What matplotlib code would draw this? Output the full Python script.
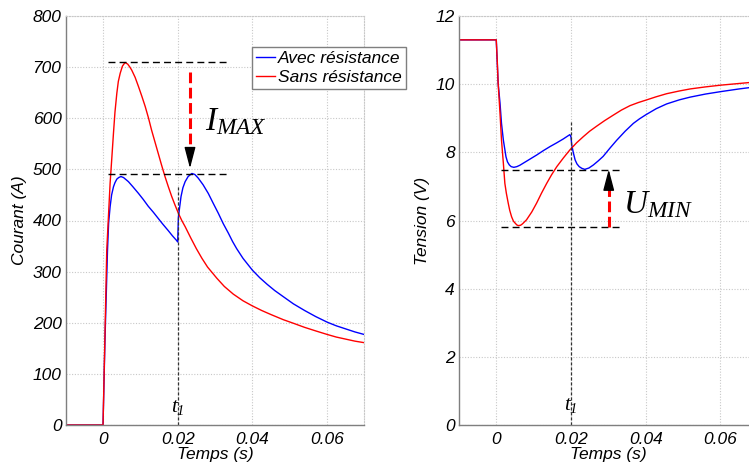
import matplotlib
matplotlib.use("Agg")
import matplotlib.pyplot as plt
from matplotlib.lines import Line2D

plt.rcParams['font.family'] = ['Liberation Sans', 'DejaVu Sans']
plt.rcParams['font.style'] = 'italic'
plt.rcParams['mathtext.fontset'] = 'custom'
plt.rcParams['mathtext.it'] = 'Liberation Serif:italic'
plt.rcParams['mathtext.rm'] = 'Liberation Serif:italic'

# ---------------- data ----------------
t_I_avec = [-0.01, 0, 0.0005, 0.0012, 0.0015, 0.0019, 0.0023, 0.0028, 0.0032, 0.0037,
            0.0042, 0.0048, 0.0055, 0.0068, 0.0080, 0.0095, 0.0108, 0.0121, 0.0135,
            0.0148, 0.0160, 0.0175, 0.0186, 0.0197, 0.0200, 0.0202, 0.0206, 0.0209,
            0.0214, 0.0220, 0.0228, 0.0238, 0.0246, 0.0255, 0.0268, 0.0282, 0.0295,
            0.0309, 0.0322, 0.0336, 0.0347, 0.0358, 0.0375, 0.0400, 0.0420, 0.0440,
            0.0460, 0.0483, 0.0510, 0.0540, 0.0570, 0.0601, 0.0625, 0.0650, 0.0675,
            0.0700]
I_avec = [0, 0, 160, 342, 395, 427, 450, 466, 474, 481,
          484, 486, 484, 476, 466, 453, 441, 428, 416,
          404, 393, 380, 370, 361, 358, 407, 430, 447,
          464, 476, 486, 492, 490, 483, 470, 453, 434,
          414, 394, 375, 359, 345, 326, 303, 288, 275,
          263, 251, 237, 224, 212, 201, 194, 188, 182,
          177]

t_I_sans = [-0.01, 0, 0.0005, 0.0010, 0.0015, 0.0019, 0.0024, 0.0028, 0.0032, 0.0037,
            0.0041, 0.0046, 0.0052, 0.0059, 0.0066, 0.0072, 0.0077, 0.0086, 0.0095,
            0.0104, 0.0113, 0.0122, 0.0130, 0.0139, 0.0148, 0.0157, 0.0166, 0.0175,
            0.0184, 0.0193, 0.0202, 0.0211, 0.0220, 0.0235, 0.0250, 0.0265, 0.0280,
            0.0305, 0.0325, 0.0349, 0.0375, 0.0400, 0.0425, 0.0450, 0.0483, 0.0510,
            0.0540, 0.0570, 0.0601, 0.0625, 0.0650, 0.0675, 0.0700]
I_sans = [0, 0, 170, 342, 415, 473, 527, 571, 612, 649,
          672, 688, 702, 709, 706, 700, 694, 680, 662,
          643, 623, 600, 577, 554, 531, 508, 486, 466,
          447, 430, 414, 400, 388, 366, 345, 326, 309,
          287, 271, 256, 243, 233, 224, 216, 206, 199,
          191, 184, 177, 172, 168, 164, 161]

t_U_avec = [-0.01, 0, 0.0005, 0.0010, 0.0014, 0.0019, 0.0026, 0.0030, 0.0035, 0.0040,
            0.0047, 0.0055, 0.0063, 0.0072, 0.0090, 0.0108, 0.0126, 0.0144, 0.0162,
            0.0179, 0.0197, 0.0200, 0.0202, 0.0206, 0.0211, 0.0216, 0.0222, 0.0229,
            0.0237, 0.0248, 0.0260, 0.0273, 0.0286, 0.0304, 0.0322, 0.0345, 0.0367,
            0.0383, 0.0400, 0.0428, 0.0456, 0.0490, 0.0519, 0.0560, 0.0600, 0.0650,
            0.0700]
U_avec = [11.3, 11.3, 10.03, 9.45, 8.85, 8.36, 7.87, 7.72, 7.63, 7.58,
          7.56, 7.58, 7.62, 7.68, 7.80, 7.92, 8.05, 8.17, 8.28,
          8.39, 8.52, 8.45, 8.22, 8.00, 7.78, 7.66, 7.58, 7.53,
          7.50, 7.54, 7.63, 7.75, 7.88, 8.12, 8.35, 8.62, 8.85,
          8.98, 9.10, 9.28, 9.42, 9.54, 9.62, 9.71, 9.78, 9.86,
          9.93]

t_U_sans = [-0.01, 0, 0.0003, 0.0005, 0.0008, 0.0010, 0.0014, 0.0019, 0.0023, 0.0027,
            0.0032, 0.0036, 0.0041, 0.0046, 0.0050, 0.0055, 0.0059, 0.0065, 0.0070,
            0.0081, 0.0095, 0.0108, 0.0121, 0.0135, 0.0148, 0.0162, 0.0180, 0.0197,
            0.0215, 0.0233, 0.0250, 0.0269, 0.0290, 0.0313, 0.0335, 0.0358, 0.0380,
            0.0400, 0.0428, 0.0456, 0.0490, 0.0519, 0.0560, 0.0600, 0.0650, 0.0700]
U_sans = [11.3, 11.3, 10.6, 10.03, 9.5, 9.15, 8.36, 7.68, 7.09, 6.80,
          6.51, 6.30, 6.11, 5.98, 5.93, 5.87, 5.85, 5.86, 5.90,
          6.02, 6.25, 6.51, 6.80, 7.09, 7.34, 7.58, 7.84, 8.07,
          8.28, 8.46, 8.62, 8.77, 8.93, 9.09, 9.24, 9.37, 9.46,
          9.53, 9.63, 9.72, 9.80, 9.86, 9.92, 9.97, 10.02, 10.07]

labels = ['Avec résistance', 'Sans résistance']
xticks = [0, 0.02, 0.04, 0.06]
xticklabels = ['0', '0.02', '0.04', '0.06']
I_ticks = [0, 100, 200, 300, 400, 500, 600, 700, 800]
U_ticks = [0, 2, 4, 6, 8, 10, 12]

# annotation values
t1 = 0.02
I_max_sans, I_max_avec = 710, 490
U_min_avec, U_min_sans = 7.48, 5.82

BLUE = '#0000ff'
RED = '#ff0000'
FS = 12.5

W, H = 749, 467
fig = plt.figure(figsize=(W / 100, H / 100), dpi=100)

def px_axes(x0, x1, ytop, ybot):
    return [x0 / W, 1 - ybot / H, (x1 - x0) / W, (ybot - ytop) / H]

ax1 = fig.add_axes(px_axes(65.7, 364.3, 16, 425))
ax2 = fig.add_axes(px_axes(458.9, 757.8, 16, 425))

def style(ax, yticks, ylim, ylabel):
    ax.set_xlim(-0.01, 0.07)
    ax.set_ylim(*ylim)
    ax.set_xticks(xticks)
    ax.set_xticklabels(xticklabels, fontstyle='italic', fontsize=FS)
    ax.set_yticks(yticks)
    ax.set_yticklabels([str(v) for v in yticks], fontstyle='italic', fontsize=FS)
    ax.tick_params(length=0, pad=3)
    ax.tick_params(axis='x', pad=5)
    ax.grid(True, color='#c8c8c8', linestyle=(0, (1, 1.5)), linewidth=0.8)
    for s in ['left', 'bottom']:
        ax.spines[s].set_color('#7f7f7f')
        ax.spines[s].set_linewidth(1.0)
    for s in ['top', 'right']:
        ax.spines[s].set_color('#c8c8c8')
        ax.spines[s].set_linestyle((0, (1, 1.5)))
        ax.spines[s].set_linewidth(0.8)
    ax.set_xlabel('Temps (s)', fontsize=FS, fontstyle='italic', labelpad=0)
    ax.set_ylabel(ylabel, fontsize=FS, fontstyle='italic', labelpad=4)

# ---------------- left: current ----------------
style(ax1, I_ticks, (0, 800), 'Courant (A)')
ax1.plot(t_I_avec, I_avec, color=BLUE, lw=1.0)
ax1.plot(t_I_sans, I_sans, color=RED, lw=1.0)

dash_kw = dict(color='black', lw=1.0, dashes=(5, 3))
ax1.plot([0.0014, 0.0332], [I_max_sans, I_max_sans], **dash_kw)
ax1.plot([0.0014, 0.0332], [I_max_avec, I_max_avec], **dash_kw)
ax1.plot([t1, t1], [0, 468], color='#333333', lw=0.9, dashes=(2.5, 1.5))

xa = 0.0233
ax1.plot([xa, xa], [691, 535], color=RED, lw=2.2, dashes=(3.5, 1.5))
ax1.annotate('', xy=(xa, 502), xytext=(xa, 538),
             arrowprops=dict(arrowstyle='-|>,head_length=0.65,head_width=0.17',
                             color='black', lw=1, shrinkA=0, shrinkB=0,
                             mutation_scale=20))
ax1.text(0.0272, 577, r'$I_{MAX}$', fontsize=24, ha='left', va='baseline')
ax1.text(t1, 26, r'$t_{1}$', fontsize=15, ha='center', va='baseline')

handles = [Line2D([], [], color=BLUE, lw=1.0), Line2D([], [], color=RED, lw=1.0)]
leg = ax1.legend(handles, labels, loc='upper left', bbox_to_anchor=(0.624, 0.925),
                 borderaxespad=0, fancybox=False, framealpha=1, edgecolor='#7f7f7f',
                 handlelength=1.05, handletextpad=0.2, borderpad=0.25,
                 labelspacing=0.2, prop=dict(style='italic', size=FS))
leg.get_frame().set_linewidth(1.0)
leg.set_zorder(10)

# ---------------- right: voltage ----------------
style(ax2, U_ticks, (0, 12), 'Tension (V)')
ax2.plot(t_U_avec, U_avec, color=BLUE, lw=1.0)
ax2.plot(t_U_sans, U_sans, color=RED, lw=1.0)

ax2.plot([0.0014, 0.033], [U_min_avec, U_min_avec], **dash_kw)
ax2.plot([0.0014, 0.033], [U_min_sans, U_min_sans], **dash_kw)
ax2.plot([t1, t1], [0, 8.9], color='#333333', lw=0.9, dashes=(2.5, 1.5))

xb = 0.0301
ax2.plot([xb, xb], [U_min_sans, 7.05], color=RED, lw=2.2, dashes=(3.5, 1.5))
ax2.annotate('', xy=(xb, 7.50), xytext=(xb, 6.98),
             arrowprops=dict(arrowstyle='-|>,head_length=0.65,head_width=0.17',
                             color='black', lw=1, shrinkA=0, shrinkB=0,
                             mutation_scale=20))
ax2.text(0.0339, 6.2, r'$U_{MIN}$', fontsize=24, ha='left', va='baseline')
ax2.text(t1, 0.44, r'$t_{1}$', fontsize=15, ha='center', va='baseline')

fig.savefig('out.png', dpi=100)
